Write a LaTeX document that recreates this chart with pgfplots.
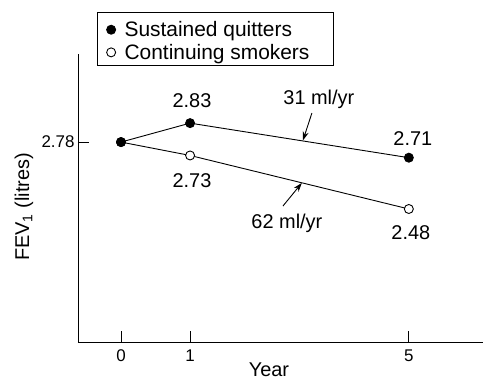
\documentclass[border=0pt]{standalone}
\usepackage{fontspec}
\setmainfont{Liberation Sans}
\usepackage{pgfplots}
\pgfplotsset{compat=1.18}
\usetikzlibrary{arrows.meta}
\pgfplotsset{every tick label/.append style={font=\fontsize{17}{20}\selectfont}}
\begin{document}
\begin{tikzpicture}
\begin{axis}[
  scale only axis, width=404.8bp, height=288bp,
  xmin=-0.747, xmax=6.285, ymin=1.8835, ymax=3.175,
  axis x line*=bottom, axis y line*=left,
  axis line style={-, line width=0.9bp},
  xtick={0,1.2,5}, xticklabels={0,1,5},
  ytick={2.78}, yticklabels={2.78},
  tick align=inside, major tick length=11bp,
  tick style={line width=0.9bp, black},
  /pgf/number format/assume math mode=true,
  xticklabel style={yshift=-4bp},
  xlabel={Year}, ylabel={FEV\textsubscript{1} (litres)},
  x label style={font=\fontsize{20}{24}\selectfont, inner sep=0pt, at={(axis description cs:0.4716,-0.0955)}, anchor=center},
  y label style={font=\fontsize{20}{24}\selectfont, at={(axis description cs:-0.1333,0.469)}, anchor=center},
  legend style={at={(0.0543,1.1399)}, anchor=north west, draw=none, fill=none,
    font=\fontsize{21}{24}\selectfont, inner xsep=6bp, inner ysep=5.5bp, row sep=2bp,
    /tikz/every odd column/.append style={column sep=6.5bp}},
  legend cell align=left,
  reverse legend,
  clip=false,
]
\addplot[black, line width=0.9bp, mark=*, mark size=4.5bp, mark options={fill=white},
  legend image code/.code={\draw[black,fill=white,line width=0.9bp] (0bp,0bp) circle (4.5bp);}]
  coordinates {(0,2.78) (1.2,2.72) (5,2.48)};
\addlegendentry{Continuing smokers}
\addplot[black, line width=0.9bp, mark=*, mark size=4.5bp, mark options={fill=black},
  legend image code/.code={\draw[black,fill=black,line width=0.9bp] (0bp,0bp) circle (4.5bp);}]
  coordinates {(0,2.78) (1.2,2.865) (5,2.71)};
\addlegendentry{Sustained quitters}
\draw[line width=0.9bp] (axis description cs:0.0469,0.9618) rectangle (axis description cs:0.630,1.1434);
\begin{scope}[font=\fontsize{20}{24}\selectfont]
\node at (axis cs:1.233,2.964) {2.83};
\node at (axis cs:5.07,2.798) {2.71};
\node at (axis cs:1.233,2.605) {2.73};
\node at (axis cs:5.035,2.372) {2.48};
\node at (axis cs:3.4375,2.973) {31 ml/yr};
\node at (axis cs:2.882,2.417) {62 ml/yr};
\end{scope}
\draw[-{Stealth[length=9bp,width=6bp]}, line width=0.9bp] (axis cs:3.316,2.910) -- (axis cs:3.16,2.787);
\draw[-{Stealth[length=9bp,width=6bp]}, line width=0.9bp] (axis cs:2.8125,2.493) -- (axis cs:3.142,2.597);
\end{axis}
\pgfresetboundingbox
\path[use as bounding box] (-78bp,-37bp) rectangle (405bp,342bp);
\end{tikzpicture}
\end{document}
